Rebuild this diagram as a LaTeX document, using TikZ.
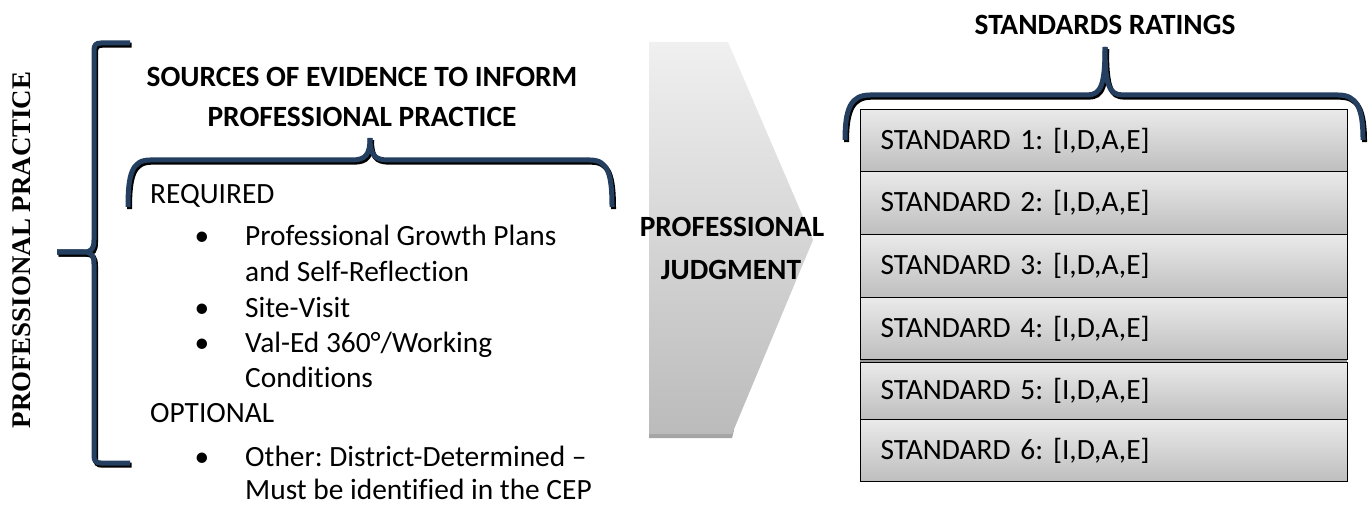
\documentclass[tikz,border=0pt]{standalone}
\usepackage{fontspec}
\setmainfont{Carlito}[Ligatures=CommonOff]
\newfontfamily\timesfont{Liberation Serif}
\definecolor{navy}{HTML}{243F60}
\definecolor{boxtop}{HTML}{EAEAEA}
\definecolor{boxbot}{HTML}{BEBEBE}
\definecolor{chevtop}{HTML}{F0F0F0}
\definecolor{chevbot}{HTML}{BBBBBB}
\definecolor{chevshadow}{HTML}{A5A5A5}
\definecolor{gapgray}{HTML}{969696}
\frenchspacing
\begin{document}
\begin{tikzpicture}[x=1bp,y=-1bp,
  txt/.style={font=\fontsize{29.4bp}{35bp}\selectfont, inner sep=0pt},
  ttl/.style={font=\fontsize{29.4bp}{35bp}\selectfont\bfseries, inner sep=0pt},
  brk/.style={draw=navy, line width=5bp, line cap=butt, line join=round,
    preaction={draw=black, line width=5bp, transform canvas={shift={(1.5bp,-2.2bp)}}}},
  stdbox/.style={draw=black, line width=1.2bp, top color=boxtop, bottom color=boxbot,
    anchor=north west, text width=447bp, align=left, inner xsep=20bp, inner ysep=0pt,
    font=\fontsize{29.4bp}{35bp}\selectfont}]
\useasboundingbox (0,0) rectangle (1372,506);

% vertical label
\node[rotate=90, inner sep=0pt, font=\fontsize{26.9bp}{30bp}\timesfont\bfseries] (pp) at (22,250) {PROFESSIONAL PRACTICE};

% left big bracket
\draw[brk] (130,43) -- (101,43) .. controls (96,43) and (94,45) .. (94,50) -- (94,240)
  .. controls (94,248) and (92,252) .. (84,252) -- (57,252);
\draw[brk] (57,252) -- (84,252) .. controls (92,252) and (94,256) .. (94,264) -- (94,456)
  .. controls (94,461) and (96,463) .. (101,463) -- (130,463);

% sources title
\node[ttl, anchor=base] (src1) at (362,87) {SOURCES OF EVIDENCE TO INFORM};
\node[ttl, anchor=base] (src2) at (362,127) {PROFESSIONAL PRACTICE};

% horizontal brace under title
\draw[brk] (128,207) .. controls (128,174) and (132,160) .. (150,160) -- (352,160)
  .. controls (366,160) and (370,154) .. (370,138);
\draw[brk] (370,138) .. controls (370,154) and (374,160) .. (388,160) -- (590,160)
  .. controls (608,160) and (612,174) .. (612,207);

% list
\node[txt, anchor=base west] (req) at (150,204) {REQUIRED};
\node[txt, anchor=base] (b1) at (202,246) {•};
\node[txt, anchor=base west] (l1) at (245,246) {Professional Growth Plans};
\node[txt, anchor=base west] (l2) at (245,281) {and Self-Reflection};
\node[txt, anchor=base] (b2) at (202,317) {•};
\node[txt, anchor=base west] (l3) at (245,317) {Site-Visit};
\node[txt, anchor=base] (b3) at (202,352) {•};
\node[txt, anchor=base west] (l4) at (245,352) {Val-Ed 360°/Working};
\node[txt, anchor=base west] (l5) at (245,387) {Conditions};
\node[txt, anchor=base west] (opt) at (150,422) {OPTIONAL};
\node[txt, anchor=base] (b4) at (202,466) {•};
\node[txt, anchor=base west] (l6) at (245,466) {Other: District-Determined –};
\node[txt, anchor=base west] (l7) at (245,499) {Must be identified in the CEP};

% chevron
\fill[chevshadow] (649,430) -- (734,430) -- (732,438) -- (649,438) -- cycle;
\shade[top color=chevtop, bottom color=chevbot] (649,42) -- (728,42) -- (813,240) -- (732,434) -- (649,434) -- cycle;
\node[ttl, anchor=base] (pj1) at (732,237) {PROFESSIONAL};
\node[ttl, anchor=base] (pj2) at (731,279) {JUDGMENT};

% standards title and brace
\node[ttl, anchor=base] (sr) at (1105,35) {STANDARDS RATINGS};
\draw[brk] (845,140) .. controls (845,108) and (851,95) .. (870,95) -- (1087,95)
  .. controls (1101,95) and (1105,85) .. (1105,47);
\draw[brk] (1105,47) .. controls (1105,85) and (1109,95) .. (1123,95) -- (1338,95)
  .. controls (1357,95) and (1363,108) .. (1363,140);

% standards boxes
\fill[gapgray] (860,358) rectangle (1347,363);
\node[stdbox, minimum height=62bp] (s1) at (860,109) {STANDARD 1: [I,D,A,E]};
\node[stdbox, minimum height=63bp] (s2) at (860,171) {STANDARD 2: [I,D,A,E]};
\node[stdbox, minimum height=63bp] (s3) at (860,234) {STANDARD 3: [I,D,A,E]};
\node[stdbox, minimum height=62bp] (s4) at (860,297) {STANDARD 4: [I,D,A,E]};
\node[stdbox, minimum height=57bp] (s5) at (860,362) {STANDARD 5: [I,D,A,E]};
\node[stdbox, minimum height=62bp] (s6) at (860,419) {STANDARD 6: [I,D,A,E]};
\end{tikzpicture}
\end{document}
